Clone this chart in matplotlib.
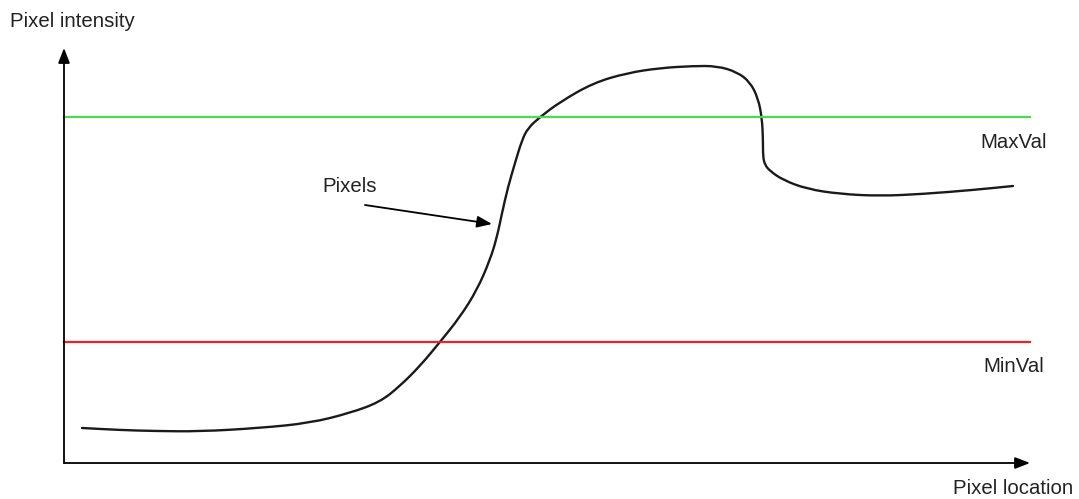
import numpy as np
import matplotlib.pyplot as plt
from matplotlib.path import Path
from matplotlib.patches import PathPatch

# curve, in pixel coordinates (x right, y down)
curve_x = [82, 120, 153, 200, 260, 310, 350, 380, 400, 420, 440, 460, 477,
           490, 497, 502, 508, 515, 522, 528, 540, 560, 593, 627, 660, 693,
           717, 737, 750, 758, 762, 763, 763, 765, 770, 783, 807, 840, 880,
           923, 973, 1013]
curve_y = [428, 430, 431, 431.5, 428, 423, 413, 402, 386, 366, 342, 317, 290,
           260, 237, 213, 187, 163, 140, 128, 117, 102, 83, 73, 68, 66,
           66, 72, 82, 98, 118, 140, 157, 165, 171, 180, 189, 194, 196,
           194, 190, 186]

max_val_y = 117
min_val_y = 342
axis_x0, axis_y0 = 64, 463
axis_x1, axis_y1 = 1030, 48

plt.rcParams['font.family'] = ['Liberation Sans', 'DejaVu Sans']

fig = plt.figure(figsize=(10.79, 4.99), dpi=100)
ax = fig.add_axes([0, 0, 1, 1])
ax.set_xlim(0, 1079)
ax.set_ylim(499, 0)
ax.axis('off')

# threshold lines
ax.plot([axis_x0, axis_x1], [max_val_y, max_val_y], color='#4ddb4d', lw=1.6)
ax.plot([axis_x0, axis_x1], [min_val_y, min_val_y], color='#ee2222', lw=1.6)

# the pixel curve: read points used as quadratic control points for a smooth path
pts = list(zip(curve_x, curve_y))
verts = [pts[0]]
codes = [Path.MOVETO]
for i in range(1, len(pts) - 1):
    mid = ((pts[i][0] + pts[i + 1][0]) / 2, (pts[i][1] + pts[i + 1][1]) / 2)
    if i == 1:
        verts.append(((pts[0][0] + pts[1][0]) / 2, (pts[0][1] + pts[1][1]) / 2))
        codes.append(Path.LINETO)
    verts += [pts[i], mid]
    codes += [Path.CURVE3, Path.CURVE3]
verts.append(pts[-1])
codes.append(Path.LINETO)
ax.add_patch(PathPatch(Path(verts, codes), facecolor='none', edgecolor='#1a1a1a',
                       lw=1.7, capstyle='round', joinstyle='round'))

# axes arrows
arrow = dict(arrowstyle='-|>,head_length=0.9,head_width=0.35', color='black', lw=1.3,
             shrinkA=0, shrinkB=0)
ax.annotate('', xy=(axis_x0, axis_y1), xytext=(axis_x0, axis_y0), arrowprops=arrow)
ax.annotate('', xy=(axis_x1, axis_y0), xytext=(axis_x0, axis_y0), arrowprops=arrow)

# label arrow
ax.annotate('', xy=(492, 224), xytext=(365, 205), arrowprops=arrow)

fs = 14.7
tc = '#222222'
ax.text(10, 21, 'Pixel intensity', fontsize=fs, color=tc, va='center', ha='left')
ax.text(1073, 489, 'Pixel location', fontsize=fs, color=tc, va='center', ha='right')
ax.text(980, 143, 'MaxVal', fontsize=fs, color=tc, va='center', ha='left')
ax.text(983, 367, 'MinVal', fontsize=fs, color=tc, va='center', ha='left')
ax.text(322, 187, 'Pixels', fontsize=fs, color=tc, va='center', ha='left')

fig.savefig('out.png', dpi=100, facecolor='white')
